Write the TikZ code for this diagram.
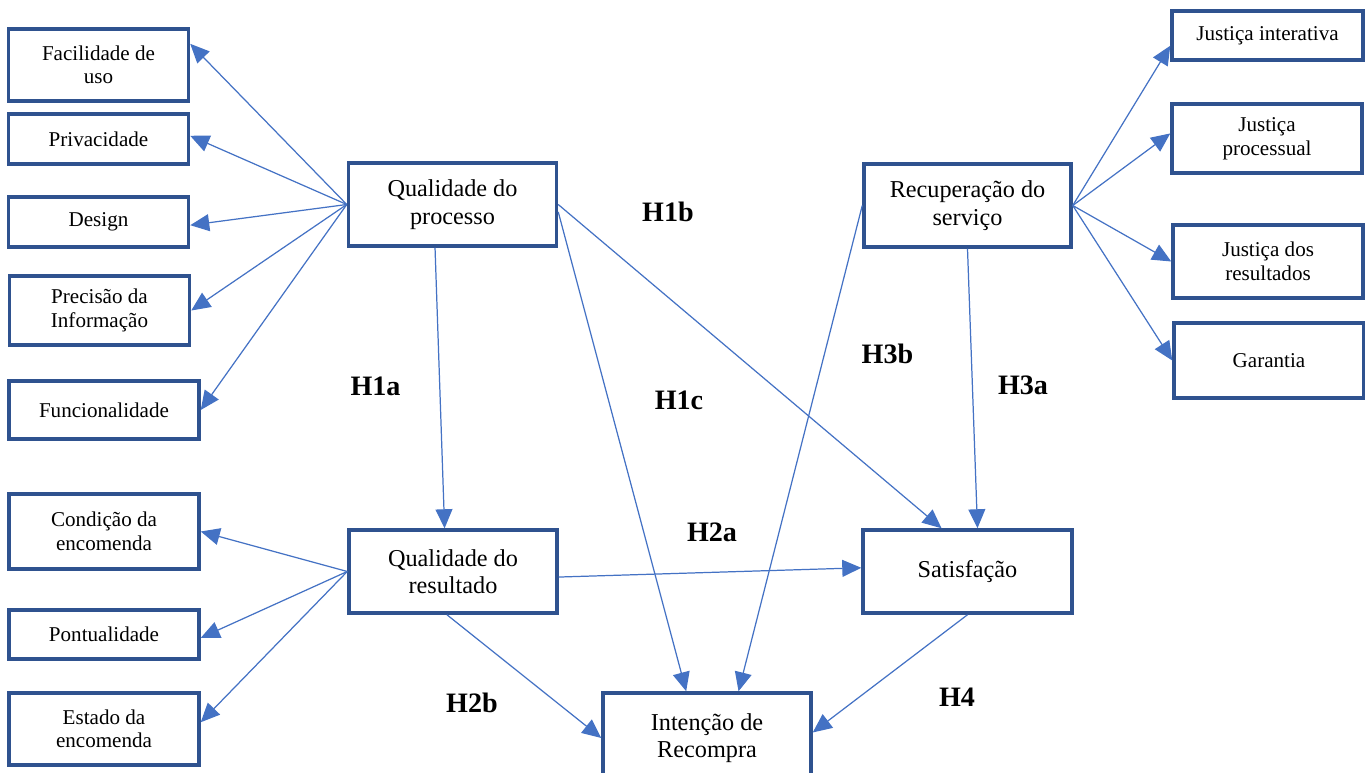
\documentclass[tikz,border=0pt]{standalone}
\usepackage{fontspec}
\setmainfont{Liberation Serif}
\usepackage{tikz}
\usetikzlibrary{arrows.meta,shapes,positioning}
\usepackage{xcolor}
\definecolor{boxblue}{RGB}{47,82,143}
\definecolor{lineblue}{RGB}{68,114,196}
\tikzstyle{arrow} = [line width=0.7pt,-{Triangle[length=0.38cm,width=0.34cm]},color=lineblue]
\tikzstyle{construct} = [rectangle, minimum width=4.16cm, minimum height=1.66cm, text centered, align=center, draw=boxblue, line width=2pt, font=\fontsize{13.8}{15.6}\selectfont]
\tikzstyle{dimension} = [rectangle, minimum width=3.6cm, text centered, align=center, draw=boxblue, line width=2pt, font=\fontsize{12}{13.4}\selectfont]
\tikzstyle{hyp} = [font=\fontsize{16}{16}\selectfont\bfseries]

\begin{document}
\begin{tikzpicture}[x=0.02cm, y=-0.02cm]
\clip (0,0) rectangle (1365,773);
% Constructs
\node[construct] (qproc) at (452.5,204.5) {Qualidade do\\processo};
\node[construct] (qres) at (453,571.5) {Qualidade do\\resultado};
\node[construct, minimum width=4.14cm] (recup) at (967.5,205.5) {Recuperação do\\serviço};
\node[construct, minimum width=4.18cm] (satisf) at (967.5,571.5) {Satisfação};
\node[construct, minimum height=1.8cm] (intencao) at (707,738) {Intenção de\\Recompra};

% Dimensions left
\node[dimension, minimum height=1.44cm] (facil) at (98.5,65) {Facilidade de\\uso};
\node[dimension, minimum height=1cm] (privac) at (98.5,139) {Privacidade};
\node[dimension, minimum height=1cm] (design) at (98.5,222) {Design};
\node[dimension, minimum height=1.38cm] (precisao) at (99.5,310.5) {Precisão da\\Informação};
\node[dimension, minimum width=3.8cm, minimum height=1.16cm] (funcion) at (104,410) {Funcionalidade};
\node[dimension, minimum width=3.8cm, minimum height=1.5cm] (condicao) at (104,531.5) {Condição da\\encomenda};
\node[dimension, minimum width=3.8cm, minimum height=0.98cm] (pontual) at (104,634.5) {Pontualidade};
\node[dimension, minimum width=3.8cm, minimum height=1.44cm] (estado) at (104,729) {Estado da\\encomenda};

% Dimensions right
\node[dimension, minimum width=3.82cm, minimum height=0.98cm] (jinter) at (1267.5,35.5) {Justiça interativa};
\node[dimension, minimum width=3.8cm, minimum height=1.38cm] (jproc) at (1267,138.5) {Justiça\\processual};
\node[dimension, minimum width=3.8cm, minimum height=1.46cm] (jres) at (1268,261.5) {Justiça dos\\resultados};
\node[dimension, minimum width=3.8cm, minimum height=1.5cm] (garantia) at (1269,360.5) {Garantia};

% Arrows to dimensions
\draw[arrow] (qproc.west) -- (facil.13);
\draw[arrow] (qproc.west) -- (privac.2);
\draw[arrow] (qproc.west) -- (design.-2);
\draw[arrow] (qproc.west) -- (precisao.east);
\draw[arrow] (qproc.west) -- (funcion.east);
\draw[arrow] (qres.west) -- (condicao.east);
\draw[arrow] (qres.west) -- (pontual.-2);
\draw[arrow] (qres.west) -- (estado.4);
\draw[arrow] (recup.east) -- (jinter.186);
\draw[arrow] (recup.east) -- (jproc.177);
\draw[arrow] (recup.east) -- (jres.west);
\draw[arrow] (recup.east) -- (garantia.west);

% Arrows between constructs
\draw[arrow] (qproc.248) -- (qres.101);
\draw[arrow] (qproc.east) -- (satisf.121);
\draw[arrow] (qproc.-4) -- (intencao.114);
\draw[arrow] (recup.west) -- (intencao.56);
\draw[arrow] (recup.south) -- (satisf.77);
\draw[arrow] (qres.-3) -- (satisf.178);
\draw[arrow] (qres.262) -- (intencao.west);
\draw[arrow] (satisf.south) -- (intencao.3);

% Hypotheses
\node[hyp] (h1a) at (375.5,386) {H1a};
\node[hyp] (h1b) at (668,212) {H1b};
\node[hyp] (h1c) at (679,400) {H1c};
\node[hyp] (h2a) at (712,532) {H2a};
\node[hyp] (h2b) at (472,703) {H2b};
\node[hyp] (h3a) at (1023,385) {H3a};
\node[hyp] (h3b) at (887.5,354) {H3b};
\node[hyp] (h4) at (957,697) {H4};
\end{tikzpicture}
\end{document}
